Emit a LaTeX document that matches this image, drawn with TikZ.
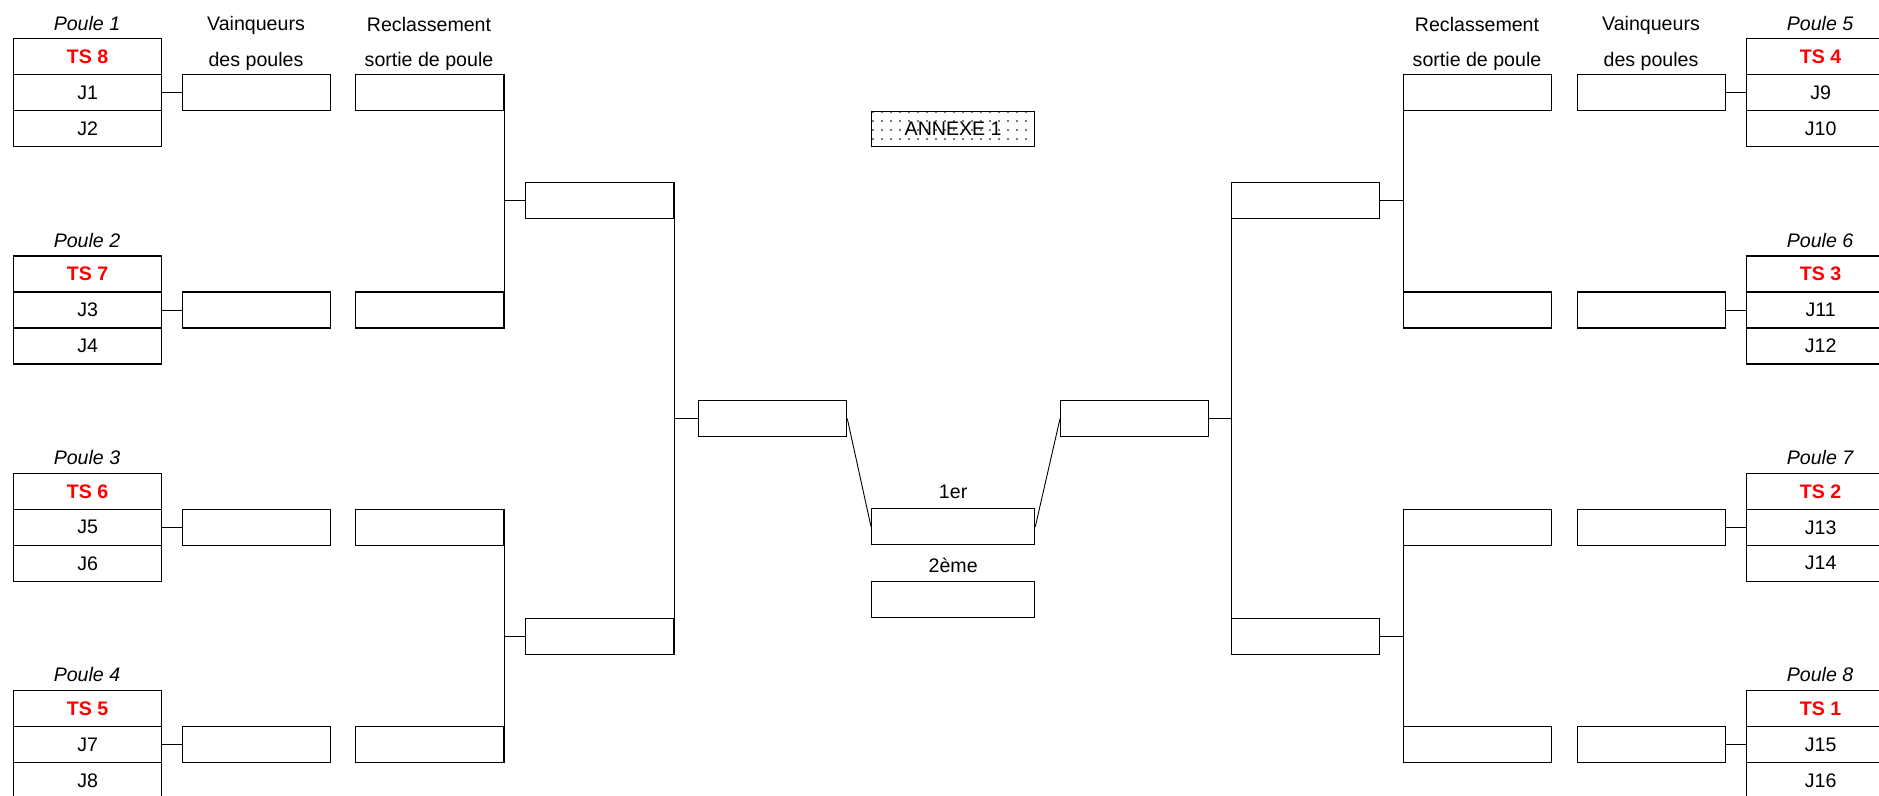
\documentclass[tikz,border=0pt]{standalone}
\usepackage{fontspec}
\setmainfont{Liberation Sans}
\usetikzlibrary{patterns.meta}

\tikzset{
  txt/.style={font=\fontsize{9.8}{11}\selectfont, inner sep=0pt},
  cell/.style={txt, draw, line width=0.65pt, minimum width=74pt, minimum height=18pt, anchor=north west},
  poule/.style={txt, font=\fontsize{9.8}{11}\selectfont\itshape},
  link/.style={line width=0.45pt},
}

\begin{document}
\begin{tikzpicture}[x=0.5pt, y=-0.5pt]

\useasboundingbox (0,0) rectangle (1879,796);
\clip (0,0) rectangle (1879,796);

% column titles
\node[txt] (hv1) at (256,25) {Vainqueurs};
\node[txt] (hv2) at (256,61) {des poules};
\node[txt] (hr1) at (429,25) {Reclassement};
\node[txt] (hr2) at (429,61) {sortie de poule};
\node[txt] (hr3) at (1477,25) {Reclassement};
\node[txt] (hr4) at (1477,61) {sortie de poule};
\node[txt] (hv3) at (1651,25) {Vainqueurs};
\node[txt] (hv4) at (1651,61) {des poules};

% the eight pools
\foreach \k/\ts/\row/\xp/\xw/\xr in {1/8/0/13/182/355, 2/7/1/13/182/355, 3/6/2/13/182/355, 4/5/3/13/182/355,
                                     5/4/0/1746/1577/1403, 6/3/1/1746/1577/1403, 7/2/2/1746/1577/1403, 8/1/3/1746/1577/1403}{%
  \pgfmathsetmacro\ytop{38+217.33*\row}
  \pgfmathtruncatemacro\ja{2*\k-1}
  \pgfmathtruncatemacro\jb{2*\k}
  \node[poule] (p\k) at (\xp+74,\ytop-15) {Poule \k};
  \node[cell] (ts\k) at (\xp,\ytop) {\textcolor{red}{\bfseries TS \ts}};
  \node[cell] (ja\k) at (\xp,\ytop+36) {J\ja};
  \node[cell] (jb\k) at (\xp,\ytop+72) {J\jb};
  \node[cell] (w\k) at (\xw,\ytop+36) {};
  \node[cell] (r\k) at (\xr,\ytop+36) {};
}
\foreach \k in {1,...,4} \draw[link] (ja\k.east) -- (w\k.west);
\foreach \k in {5,...,8} \draw[link] (ja\k.west) -- (w\k.east);

% tableau
\node[cell] (q1) at (525,182) {};
\node[cell] (q2) at (525,618) {};
\node[cell] (q3) at (1231,182) {};
\node[cell] (q4) at (1231,618) {};
\node[cell] (s1) at (698,400) {};
\node[cell] (s2) at (1060,400) {};
\node[cell, minimum width=81.5pt] (f1) at (871,508) {};
\node[cell, minimum width=81.5pt] (f2) at (871,581) {};
\node[txt] (l1) at (f1.north) [yshift=8pt] {1er};
\node[txt] (l2) at (f2.north) [yshift=8pt] {2ème};

\node[cell, minimum width=81.5pt, minimum height=17.5pt,
      pattern={Dots[distance=4.5pt, radius=0.6pt]}, pattern color=black!70] (annexe) at (871,111) {ANNEXE 1};

\draw[link] (r1.north east) -- (r2.south east);
\draw[link] (q1.west) -- (q1.west -| r1.east);
\draw[link] (r3.north east) -- (r4.south east);
\draw[link] (q2.west) -- (q2.west -| r3.east);
\draw[link] (q1.north east) -- (q2.south east);
\draw[link] (s1.west) -- (s1.west -| q1.east);

\draw[link] (r5.north west) -- (r6.south west);
\draw[link] (q3.east) -- (q3.east -| r5.west);
\draw[link] (r7.north west) -- (r8.south west);
\draw[link] (q4.east) -- (q4.east -| r7.west);
\draw[link] (q3.north west) -- (q4.south west);
\draw[link] (s2.east) -- (s2.east -| q3.west);

\draw[link] (s1.east) -- (f1.west);
\draw[link] (s2.west) -- (f1.east);

\end{tikzpicture}
\end{document}
